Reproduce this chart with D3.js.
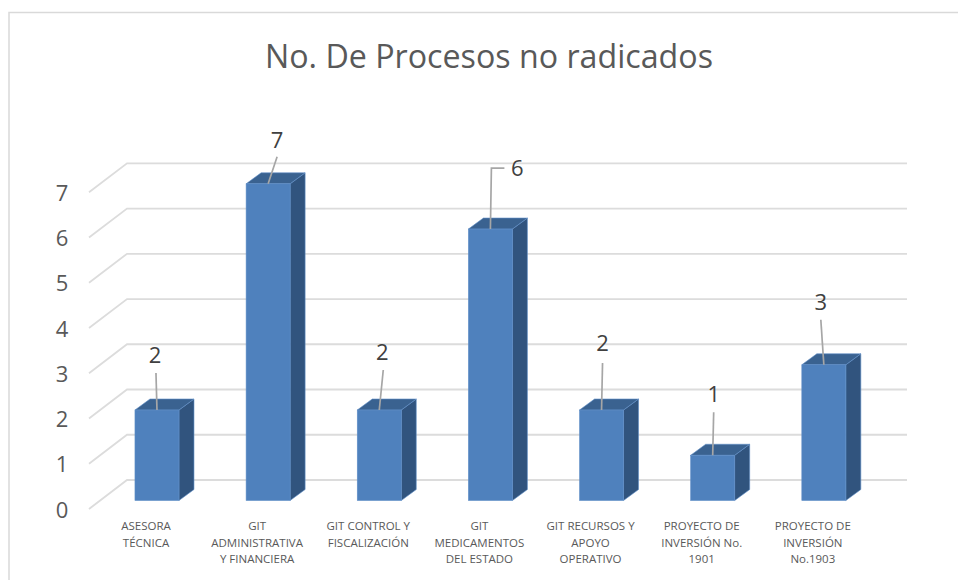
<!DOCTYPE html>
<html>
<head>
<meta charset="utf-8">
<script src="https://cdnjs.cloudflare.com/ajax/libs/d3/7.8.5/d3.min.js"></script>
<style>
  html, body { margin: 0; padding: 0; background: #fff; }
  text { font-family: "Open Sans", "Noto Sans", sans-serif; }
</style>
</head>
<body>
<div class="chart"></div>
<script>
var categories = [
  ["ASESORA", "TÉCNICA"],
  ["GIT", "ADMINISTRATIVA", "Y FINANCIERA"],
  ["GIT CONTROL Y", "FISCALIZACIÓN"],
  ["GIT", "MEDICAMENTOS", "DEL ESTADO"],
  ["GIT RECURSOS Y", "APOYO", "OPERATIVO"],
  ["PROYECTO DE", "INVERSIÓN No.", "1901"],
  ["PROYECTO DE", "INVERSIÓN", "No.1903"]
];
var values = [2, 7, 2, 6, 2, 1, 3];
var ticks = [0, 1, 2, 3, 4, 5, 6, 7];
var chartTitle = "No. De Procesos no radicados";

// leader end and label position, relative to the bar top centre
var leaders = [
  { dx: -1, dy: -37, lx: -2, ly: -47 },
  { dx: 9, dy: -27, lx: 9, ly: -36 },
  { dx: 4, dy: -40, lx: 3, ly: -50 },
  { dx: 1, dy: -61, lx: 27, ly: -53, elbow: 14 },
  { dx: 1, dy: -47, lx: 1, ly: -59 },
  { dx: 1, dy: -43, lx: 1, ly: -53 },
  { dx: -3, dy: -45, lx: -3, ly: -55 }
];

var width = 958, height = 580;
var depthX = 15, depthY = 11;   // 3d offset of bars
var wallX = 38, wallY = 29;     // 3d offset of the floor

var svg = d3.select("div.chart").append("svg")
  .attr("width", width)
  .attr("height", height)
  .style("display", "block");

// outer frame, only the left and top edges are inside the picture
svg.append("path")
  .attr("d", `M 9 ${height} V 12.5 H ${width}`)
  .attr("fill", "none")
  .attr("stroke", "#d9d9d9")
  .attr("stroke-width", 1.5);

svg.append("text")
  .attr("x", 489).attr("y", 68)
  .attr("text-anchor", "middle")
  .attr("font-size", 32.2)
  .attr("fill", "#595959")
  .text(chartTitle);

var xScale = d3.scaleBand()
  .domain(d3.range(values.length))
  .range([101.4, 879.4]);

var barWidth = 44;

// front of the value axis; bars stand a bit in front of the back wall
var yScale = d3.scaleLinear().domain([0, 7]).range([509, 192.3]);
var barBase = 500.5;
var unit = yScale(0) - yScale(1);
var barY = v => barBase - v * unit;

// gridlines: stub on the side wall, then along the back wall
svg.append("g")
  .selectAll("path")
  .data(ticks)
  .enter()
  .append("path")
  .attr("d", d => `M 89 ${yScale(d)} L ${89 + wallX} ${yScale(d) - wallY} H 907`)
  .attr("fill", "none")
  .attr("stroke", "#dcdcdc")
  .attr("stroke-width", 1.8);

// tick labels
svg.append("g")
  .selectAll("text")
  .data(ticks)
  .enter()
  .append("text")
  .attr("x", 62).attr("y", d => yScale(d) + 8.5)
  .attr("text-anchor", "middle")
  .attr("font-size", 22)
  .attr("fill", "#595959")
  .text(d => d);

var bars = svg.append("g")
  .selectAll("g")
  .data(values)
  .enter()
  .append("g")
  .attr("transform", (d, i) => `translate(${xScale(i) + xScale.bandwidth() / 2 - barWidth / 2},0)`)
  .attr("stroke", "#5f8ec7")
  .attr("stroke-width", 0.6);

bars.append("path")
  .attr("fill", "#31547e")
  .attr("d", d => `M ${barWidth} ${barY(d)} l ${depthX} ${-depthY} V ${barBase - depthY} L ${barWidth} ${barBase} Z`);

bars.append("path")
  .attr("fill", "#3a6290")
  .attr("d", d => `M 0 ${barY(d)} l ${depthX} ${-depthY} h ${barWidth} l ${-depthX} ${depthY} Z`);

bars.append("rect")
  .attr("x", 0)
  .attr("y", d => barY(d))
  .attr("width", barWidth)
  .attr("height", d => barBase - barY(d))
  .attr("fill", "#4f81bd");

// leader lines and value labels
var labels = svg.append("g")
  .selectAll("g")
  .data(values)
  .enter()
  .append("g")
  .attr("transform", (d, i) => `translate(${xScale(i) + xScale.bandwidth() / 2},${barY(d)})`);

labels.append("path")
  .attr("fill", "none")
  .attr("stroke", "#a6a6a6")
  .attr("stroke-width", 1.7)
  .attr("d", (d, i) => {
    var l = leaders[i];
    var p = `M 0 0 L ${l.dx} ${l.dy}`;
    return l.elbow ? p + ` H ${l.elbow}` : p;
  });

labels.append("text")
  .attr("x", (d, i) => leaders[i].lx)
  .attr("y", (d, i) => leaders[i].ly)
  .attr("text-anchor", "middle")
  .attr("font-size", 22)
  .attr("fill", "#404040")
  .text(d => d);

// category labels, offset to the left of the bars like the original
svg.append("g")
  .selectAll("text")
  .data(categories)
  .enter()
  .append("text")
  .attr("text-anchor", "middle")
  .attr("font-size", 11.5)
  .attr("fill", "#595959")
  .attr("transform", (d, i) => `translate(${xScale(i) + xScale.bandwidth() / 2 - 11},530)`)
  .selectAll("tspan")
  .data(d => d)
  .enter()
  .append("tspan")
  .attr("x", 0)
  .attr("y", (d, i) => i * 16.5)
  .text(d => d);
</script>
</body>
</html>
